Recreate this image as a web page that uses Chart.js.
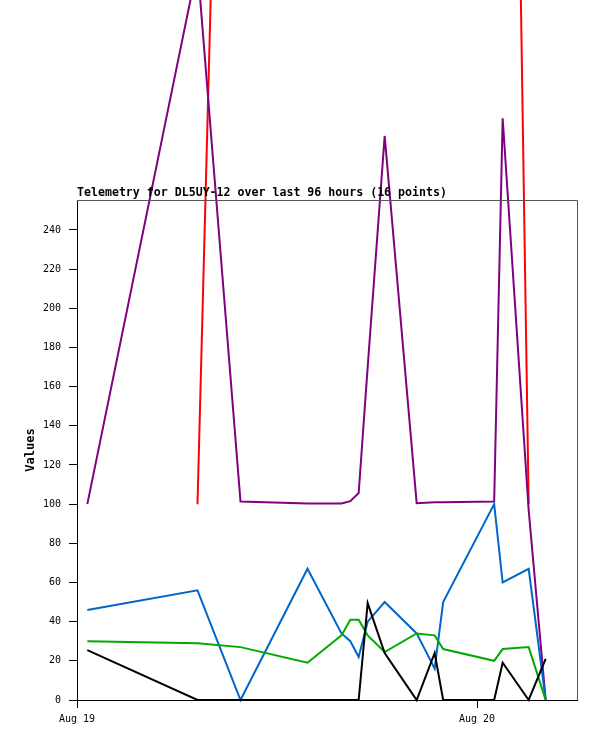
<!DOCTYPE html>
<html>
<head>
<meta charset="utf-8">
<script src="https://cdn.jsdelivr.net/npm/chart.js@4.4.0/dist/chart.umd.min.js"></script>
<style>
  html, body { margin: 0; padding: 0; background: #fff; }
  #wrap { width: 597px; height: 741px; }
</style>
</head>
<body>
<div id="wrap"><canvas id="main-chart"></canvas></div>
<script>
// hours since Aug 19 00:00
const hours = [0.62, 7.23, 9.81, 13.83, 15.87, 16.4, 16.9, 17.44, 18.46, 20.38, 21.46, 21.97, 25.03, 25.54, 27.1, 28.12];
const blackValues = [25.5, 0, 0, 0, 0, 0, 0, 49.5, 24, 0, 24, 0, 0, 19, 0, 21];
const greenValues = [30, 29, 27, 19, 33, 41, 41, 33, 24.5, 34, 33, 26, 20, 26, 27, 0];
const blueValues = [46, 56, 0, 67, 34, 30, 22, 40, 50, 34, 16, 50, 100, 60, 67, 0];
const purpleValues = [100, 375, 101.3, 100.3, 100.3, 101.5, 105.7, 170, 288, 100.5, 101, 101, 101.3, 297, 97, 0];
const redValues = [null, 100, 940, 950, 950, 950, 950, 950, 950, 950, 950, 950, 950, 960, 100, null];
const xTickLabels = ['Aug 19', 'Aug 20'];
const chartTitle = 'Telemetry for DL5UY-12 over last 96 hours (16 points)';

const MONO = "'DejaVu Sans Mono', 'Liberation Mono', monospace";

function toPoints(values) {
  return values.map((v, i) => ({ x: hours[i], y: v }));
}

function line(values, color) {
  return {
    data: toPoints(values),
    borderColor: color,
    borderWidth: 2,
    pointRadius: 0,
    tension: 0,
    fill: false,
    clip: false,
  };
}

// frame on top/right + title at the left edge of the plot
const framePlugin = {
  id: 'frame',
  afterDraw(chart) {
    const { ctx, chartArea: a } = chart;
    ctx.save();
    ctx.strokeStyle = '#555';
    ctx.lineWidth = 1;
    ctx.beginPath();
    ctx.moveTo(a.left, a.top + 0.5);
    ctx.lineTo(a.right + 0.5, a.top + 0.5);
    ctx.lineTo(a.right + 0.5, a.bottom);
    ctx.stroke();
    ctx.fillStyle = '#000';
    ctx.font = "bold 11.6px " + MONO;
    ctx.textBaseline = 'alphabetic';
    ctx.fillText(chartTitle, a.left, a.top - 4);
    ctx.restore();
  }
};

const ctx = document.getElementById('main-chart').getContext('2d');
new Chart(ctx, {
  type: 'line',
  data: {
    datasets: [
      line(blackValues, '#000000'),
      line(greenValues, '#00aa00'),
      line(blueValues, '#0066cc'),
      line(purpleValues, '#800080'),
      line(redValues, '#ff0000'),
    ]
  },
  options: {
    responsive: true,
    maintainAspectRatio: false,
    animation: false,
    devicePixelRatio: 1,
    layout: { padding: { top: 200, right: 20, bottom: 0, left: 0 } },
    plugins: {
      legend: { display: false },
      title: { display: false },
      tooltip: { enabled: false }
    },
    scales: {
      x: {
        type: 'linear',
        min: 0,
        max: 30,
        afterFit(scale) { scale.height = 41; },
        grid: { drawOnChartArea: false, tickLength: 8, tickColor: '#000' },
        border: { color: '#000' },
        ticks: {
          stepSize: 24,
          includeBounds: false,
          maxRotation: 0,
          padding: 5,
          color: '#000',
          font: { family: MONO, size: 10 },
          callback: (v) => xTickLabels[Math.round(v / 24)]
        }
      },
      y: {
        min: 0,
        max: 255.3,
        afterFit(scale) { scale.width = 77; },
        grid: { drawOnChartArea: false, tickLength: 8, tickColor: '#000' },
        border: { color: '#000' },
        title: {
          display: true,
          text: 'Values',
          color: '#000',
          font: { family: MONO, size: 12, weight: 'bold' },
          padding: { top: 24, bottom: 0 }
        },
        ticks: {
          stepSize: 20,
          includeBounds: false,
          padding: 8,
          color: '#000',
          font: { family: MONO, size: 10 }
        }
      }
    }
  },
  plugins: [framePlugin]
});
</script>
</body>
</html>
